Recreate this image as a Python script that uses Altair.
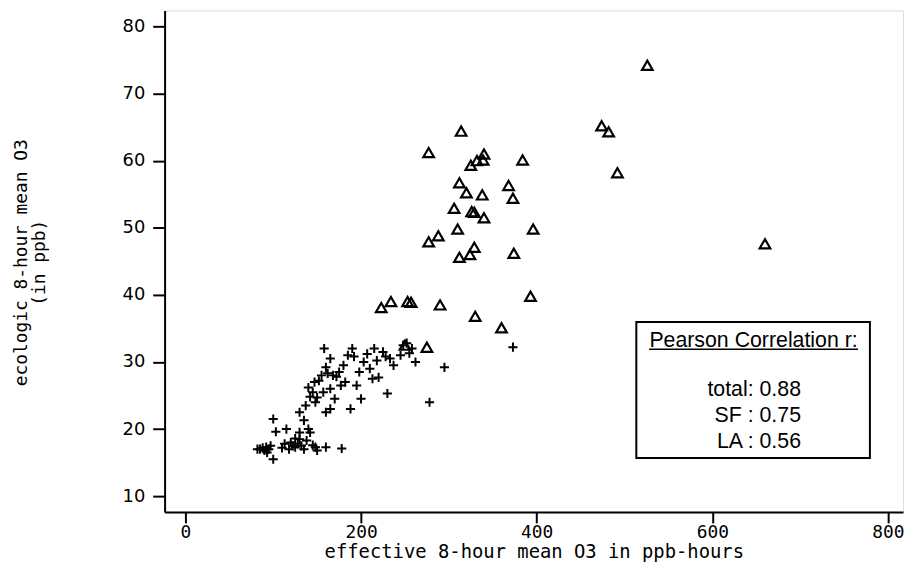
import altair as alt
import pandas as pd

# Triangles (LA)
la_x = [526, 474, 482, 492, 660, 314, 277, 325, 332, 339, 340, 384, 312, 368, 320, 338, 373,
        306, 326, 329, 340, 396, 310, 288, 277, 312, 324, 329, 374, 223, 234, 253, 257, 290,
        393, 330, 360, 275, 250]
la_y = [74.2, 65.2, 64.3, 58.2, 47.6, 64.4, 61.2, 59.3, 60.0, 60.1, 61.0, 60.1, 56.7, 56.3, 55.2,
        54.9, 54.4, 52.9, 52.4, 52.3, 51.5, 49.8, 49.8, 48.8, 47.9, 45.6, 46.0, 47.1, 46.2, 38.1,
        39.0, 39.0, 38.9, 38.5, 39.8, 36.8, 35.1, 32.2, 32.5]

# Crosses (SF)
sf_x = [82, 85, 88, 90, 92, 95, 93, 97, 100, 100, 103, 110, 113, 115, 120, 118, 122, 125, 125,
        128, 130, 130, 132, 135, 138, 140, 142, 145, 148, 150, 160, 178,
        130, 135, 137, 140, 142, 145, 147, 148, 150, 152, 155, 157, 158, 160, 162, 165, 165,
        168, 170, 172, 175, 177, 180, 182, 185, 190, 192, 195, 198, 200, 203, 207, 210, 213,
        215, 218, 220, 225, 228, 230, 233, 237, 245, 248, 252, 255, 258, 262, 278, 295, 188,
        165, 160, 373]
sf_y = [17.0, 17.0, 17.2, 16.8, 17.3, 17.0, 16.5, 17.5, 15.5, 21.5, 19.6, 17.2, 17.8, 20.0, 18.0,
        17.0, 17.5, 18.6, 17.3, 17.8, 19.5, 18.5, 17.5, 17.0, 18.3, 20.0, 19.5, 17.6, 17.3, 16.8,
        17.3, 17.1,
        22.5, 21.3, 23.5, 26.2, 24.8, 25.5, 27.0, 24.0, 24.7, 27.2, 28.0, 25.5, 32.0, 29.2, 28.3,
        30.5, 26.0, 28.0, 24.5, 27.8, 28.5, 26.5, 29.5, 27.0, 31.0, 32.0, 30.8, 26.5, 28.5, 24.5,
        30.0, 31.2, 29.0, 27.5, 32.0, 30.2, 27.7, 31.5, 30.8, 25.3, 30.5, 29.5, 31.0, 32.5, 32.8,
        31.3, 32.0, 30.0, 24.0, 29.2, 23.0, 23.0, 22.5, 32.2]

x_ticks = [0, 200, 400, 600, 800]
y_ticks = [10, 20, 30, 40, 50, 60, 70, 80]

box_text = ["total: 0.88", "SF  : 0.75", "LA  : 0.56"]
header_text = "Pearson Correlation r:"

la = pd.DataFrame({"x": la_x, "y": la_y})
sf = pd.DataFrame({"x": sf_x, "y": sf_y})

xs = alt.Scale(domain=[-23.7, 817.2], nice=False, zero=False)
ys = alt.Scale(domain=[7.64, 82.38], nice=False, zero=False)

xax = alt.Axis(values=x_ticks, grid=False, tickSize=11, tickWidth=2, tickColor="black",
               domainColor="black", domainWidth=2, labelFont="DejaVu Sans Mono",
               labelFontSize=18, labelColor="black", labelPadding=1,
               title="effective 8-hour mean O3 in ppb-hours", titleFont="DejaVu Sans Mono",
               titleFontSize=19, titleFontWeight="normal", titleColor="black", titlePadding=1)
yax = alt.Axis(values=y_ticks, grid=False, tickSize=12, tickWidth=2, tickColor="black",
               domainColor="black", domainWidth=2, labelFont="DejaVu Sans",
               labelFontSize=18, labelColor="black", labelPadding=8,
               title=["ecologic 8-hour mean O3", "(in ppb)"], titleFont="DejaVu Sans Mono",
               titleFontSize=18, titleFontWeight="normal", titleColor="black",
               titleAngle=-90, titleX=-144, titleY=254, titleAlign="center",
               titleBaseline="middle", titleLineHeight=18)

base_x = alt.X("x:Q", scale=xs, axis=xax)
base_y = alt.Y("y:Q", scale=ys, axis=yax)

tri = alt.Chart(la).mark_point(shape="triangle-up", size=115, filled=False,
                               stroke="black", strokeWidth=2.2, opacity=1).encode(x=base_x, y=base_y)
crs = alt.Chart(sf).mark_point(shape="M-1,0L1,0M0,-1L0,1", size=85, filled=False,
                               stroke="black", strokeWidth=2, opacity=1).encode(x="x:Q", y="y:Q")

box = alt.Chart(pd.DataFrame({"x": [513.5], "x2": [779.5], "y": [15.7], "y2": [35.95]})).mark_rect(
    fill="white", stroke="black", strokeWidth=2).encode(x="x:Q", x2="x2:Q", y="y:Q", y2="y2:Q")

hdr = alt.Chart(pd.DataFrame({"x": [647], "y": [32.3], "t": [header_text]})).mark_text(
    font="Liberation Sans", fontSize=21.5, align="center", baseline="alphabetic", color="black"
).encode(x="x:Q", y="y:Q", text="t:N")
uline = alt.Chart(pd.DataFrame({"x": [528], "x2": [766], "y": [31.9]})).mark_rule(
    color="black", strokeWidth=1.5).encode(x="x:Q", x2="x2:Q", y="y:Q")
lines = alt.Chart(pd.DataFrame({"x": [701, 701, 701], "y": [24.87, 21.03, 17.2], "t": box_text})).mark_text(
    font="Liberation Sans", fontSize=21.5, align="right", baseline="alphabetic", color="black"
).encode(x="x:Q", y="y:Q", text="t:N")

chart = alt.layer(tri, crs, box, hdr, uline, lines).properties(
    width=745, height=506, autosize=alt.AutoSizeParams(type="none"),
    padding={"left": 158, "top": 0, "right": 2, "bottom": 53}
).configure_view(stroke=None).configure(background="white")

chart.save("out.html", embed_options={"renderer": "svg", "actions": False})
